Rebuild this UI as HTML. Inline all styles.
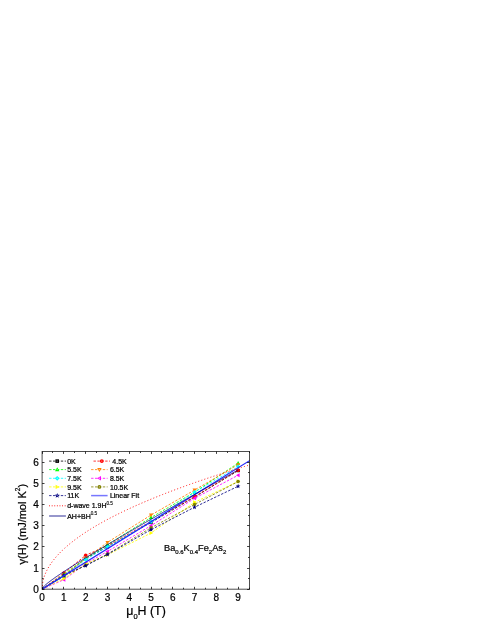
<!DOCTYPE html>
<html><head><meta charset="utf-8"><title>chart</title>
<style>html,body{margin:0;padding:0;background:#fff;}body{width:491px;height:635px;position:relative;overflow:hidden;font-family:"Liberation Sans",sans-serif;}</style>
</head><body>
<svg width="491" height="635" viewBox="0 0 491 635" style="position:absolute;left:0;top:0;filter:blur(0.3px)">
<rect x="0" y="0" width="491" height="635" fill="#fff"/>
<clipPath id="cp"><rect x="42.1" y="451.5" width="207.4" height="137.70000000000005"/></clipPath>
<g clip-path="url(#cp)">
<polyline points="42.10,589.20 63.88,576.07 85.66,558.48 107.44,546.83 151.00,522.47 194.56,497.05 238.12,470.56" fill="none" stroke="#000000" stroke-width="0.85" stroke-dasharray="2.4 1.5"/>
<rect x="62.22" y="574.40" width="3.33" height="3.33" fill="#000000"/>
<rect x="83.99" y="556.82" width="3.33" height="3.33" fill="#000000"/>
<rect x="105.77" y="545.17" width="3.33" height="3.33" fill="#000000"/>
<rect x="149.34" y="520.80" width="3.33" height="3.33" fill="#000000"/>
<rect x="192.90" y="495.38" width="3.33" height="3.33" fill="#000000"/>
<rect x="236.46" y="468.90" width="3.33" height="3.33" fill="#000000"/>
<polyline points="42.10,589.20 63.88,573.10 85.66,555.30 107.44,545.77 151.00,521.41 194.56,496.62 238.12,470.35" fill="none" stroke="#ff0000" stroke-width="0.85" stroke-dasharray="2.4 1.5"/>
<circle cx="63.88" cy="573.10" r="1.76" fill="#ff0000"/>
<circle cx="85.66" cy="555.30" r="1.76" fill="#ff0000"/>
<circle cx="107.44" cy="545.77" r="1.76" fill="#ff0000"/>
<circle cx="151.00" cy="521.41" r="1.76" fill="#ff0000"/>
<circle cx="194.56" cy="496.62" r="1.76" fill="#ff0000"/>
<circle cx="238.12" cy="470.35" r="1.76" fill="#ff0000"/>
<polyline points="42.10,589.20 63.88,574.37 85.66,558.48 107.44,544.71 151.00,517.59 194.56,492.17 238.12,463.15" fill="none" stroke="#00ff00" stroke-width="0.85" stroke-dasharray="2.4 1.5"/>
<polygon points="63.88,572.15 61.84,575.85 65.92,575.85" fill="#00ff00"/>
<polygon points="85.66,556.26 83.62,559.96 87.69,559.96" fill="#00ff00"/>
<polygon points="107.44,542.49 105.41,546.19 109.47,546.19" fill="#00ff00"/>
<polygon points="151.00,515.37 148.97,519.07 153.03,519.07" fill="#00ff00"/>
<polygon points="194.56,489.95 192.53,493.65 196.59,493.65" fill="#00ff00"/>
<polygon points="238.12,460.93 236.09,464.63 240.16,464.63" fill="#00ff00"/>
<polyline points="42.10,589.20 63.88,575.43 85.66,558.48 107.44,542.38 151.00,515.05 194.56,490.05 238.12,464.63" fill="none" stroke="#ff8000" stroke-width="0.85" stroke-dasharray="2.4 1.5"/>
<polygon points="63.88,577.65 61.84,573.95 65.92,573.95" fill="#ff8000"/>
<polygon points="85.66,560.70 83.62,557.00 87.69,557.00" fill="#ff8000"/>
<polygon points="107.44,544.60 105.41,540.90 109.47,540.90" fill="#ff8000"/>
<polygon points="151.00,517.27 148.97,513.57 153.03,513.57" fill="#ff8000"/>
<polygon points="194.56,492.27 192.53,488.57 196.59,488.57" fill="#ff8000"/>
<polygon points="238.12,466.85 236.09,463.15 240.16,463.15" fill="#ff8000"/>
<polyline points="42.10,589.20 63.88,576.49 85.66,559.54 107.44,546.83 151.00,521.83 194.56,492.17 238.12,466.75" fill="none" stroke="#00ffff" stroke-width="0.85" stroke-dasharray="2.4 1.5"/>
<polygon points="63.88,574.27 66.10,576.49 63.88,578.71 61.66,576.49" fill="#00ffff"/>
<polygon points="85.66,557.32 87.88,559.54 85.66,561.76 83.44,559.54" fill="#00ffff"/>
<polygon points="107.44,544.61 109.66,546.83 107.44,549.05 105.22,546.83" fill="#00ffff"/>
<polygon points="151.00,519.61 153.22,521.83 151.00,524.05 148.78,521.83" fill="#00ffff"/>
<polygon points="194.56,489.95 196.78,492.17 194.56,494.39 192.34,492.17" fill="#00ffff"/>
<polygon points="238.12,464.53 240.34,466.75 238.12,468.97 235.90,466.75" fill="#00ffff"/>
<polyline points="42.10,589.20 63.88,579.67 85.66,563.78 107.44,551.49 151.00,525.65 194.56,498.32 238.12,475.22" fill="none" stroke="#ff00ff" stroke-width="0.85" stroke-dasharray="2.4 1.5"/>
<polygon points="61.66,579.67 65.36,577.63 65.36,581.70" fill="#ff00ff"/>
<polygon points="83.44,563.78 87.14,561.74 87.14,565.81" fill="#ff00ff"/>
<polygon points="105.22,551.49 108.92,549.46 108.92,553.53" fill="#ff00ff"/>
<polygon points="148.78,525.65 152.48,523.61 152.48,527.68" fill="#ff00ff"/>
<polygon points="192.34,498.32 196.04,496.28 196.04,500.35" fill="#ff00ff"/>
<polygon points="235.90,475.22 239.60,473.19 239.60,477.26" fill="#ff00ff"/>
<polyline points="42.10,589.20 63.88,578.61 85.66,563.78 107.44,554.88 151.00,533.06 194.56,502.34 238.12,481.37" fill="none" stroke="#ffff00" stroke-width="0.85" stroke-dasharray="2.4 1.5"/>
<polygon points="66.10,578.61 62.40,576.57 62.40,580.64" fill="#ffff00"/>
<polygon points="87.88,563.78 84.18,561.74 84.18,565.81" fill="#ffff00"/>
<polygon points="109.66,554.88 105.96,552.85 105.96,556.92" fill="#ffff00"/>
<polygon points="153.22,533.06 149.52,531.02 149.52,535.09" fill="#ffff00"/>
<polygon points="196.78,502.34 193.08,500.31 193.08,504.38" fill="#ffff00"/>
<polygon points="240.34,481.37 236.64,479.33 236.64,483.40" fill="#ffff00"/>
<polyline points="42.10,589.20 63.88,576.07 85.66,565.47 107.44,554.03 151.00,527.76 194.56,504.46 238.12,481.58" fill="none" stroke="#808000" stroke-width="0.85" stroke-dasharray="2.4 1.5"/>
<circle cx="63.88" cy="576.07" r="1.76" fill="#808000"/>
<circle cx="85.66" cy="565.47" r="1.76" fill="#808000"/>
<circle cx="107.44" cy="554.03" r="1.76" fill="#808000"/>
<circle cx="151.00" cy="527.76" r="1.76" fill="#808000"/>
<circle cx="194.56" cy="504.46" r="1.76" fill="#808000"/>
<circle cx="238.12" cy="481.58" r="1.76" fill="#808000"/>
<polyline points="42.10,589.20 63.88,575.22 85.66,565.68 107.44,554.46 151.00,529.67 194.56,507.21 238.12,486.24" fill="none" stroke="#000080" stroke-width="0.85" stroke-dasharray="2.4 1.5"/>
<polygon points="63.88,572.81 64.48,574.39 66.17,574.47 64.85,575.53 65.29,577.16 63.88,576.24 62.47,577.16 62.91,575.53 61.59,574.47 63.28,574.39" fill="#000080"/>
<polygon points="85.66,563.28 86.26,564.86 87.95,564.94 86.63,566.00 87.07,567.63 85.66,566.70 84.25,567.63 84.69,566.00 83.37,564.94 85.06,564.86" fill="#000080"/>
<polygon points="107.44,552.05 108.04,553.63 109.73,553.71 108.41,554.77 108.85,556.40 107.44,555.47 106.03,556.40 106.47,554.77 105.15,553.71 106.84,553.63" fill="#000080"/>
<polygon points="151.00,527.27 151.60,528.85 153.29,528.93 151.97,529.98 152.41,531.62 151.00,530.69 149.59,531.62 150.03,529.98 148.71,528.93 150.40,528.85" fill="#000080"/>
<polygon points="194.56,504.81 195.16,506.39 196.85,506.47 195.53,507.53 195.97,509.16 194.56,508.23 193.15,509.16 193.59,507.53 192.27,506.47 193.96,506.39" fill="#000080"/>
<polygon points="238.12,483.84 238.72,485.42 240.41,485.50 239.09,486.56 239.53,488.19 238.12,487.26 236.71,488.19 237.15,486.56 235.83,485.50 237.52,485.42" fill="#000080"/>
<line x1="42.10" y1="589.20" x2="251.19" y2="459.65" stroke="#2424ff" stroke-width="1.25"/>
<polyline points="42.10,589.20 42.54,583.51 42.97,581.15 43.41,579.34 43.84,577.82 44.28,576.47 44.71,575.26 45.15,574.14 45.58,573.10 46.02,572.12 46.46,571.20 46.89,570.32 47.33,569.48 47.76,568.68 48.20,567.90 48.63,567.15 49.07,566.43 49.51,565.73 49.94,565.05 50.38,564.39 50.81,563.74 51.25,563.11 51.68,562.50 52.12,561.90 52.55,561.31 52.99,560.74 53.43,560.17 53.86,559.62 54.30,559.08 54.73,558.55 55.17,558.02 55.60,557.51 56.04,557.00 56.47,556.50 56.91,556.01 57.35,555.52 57.78,555.05 58.22,554.57 58.65,554.11 59.09,553.65 59.52,553.20 59.96,552.75 60.40,552.31 60.83,551.87 61.27,551.44 61.70,551.01 62.14,550.59 62.57,550.17 63.01,549.76 63.44,549.35 63.88,548.95 64.32,548.55 64.75,548.15 65.19,547.76 65.62,547.37 66.06,546.98 66.49,546.60 66.93,546.22 67.36,545.85 67.80,545.48 68.24,545.11 68.67,544.74 69.11,544.38 69.54,544.02 69.98,543.66 70.41,543.31 70.85,542.95 71.29,542.61 71.72,542.26 72.16,541.92 72.59,541.57 73.03,541.23 73.46,540.90 73.90,540.56 74.33,540.23 74.77,539.90 75.21,539.57 75.64,539.25 76.08,538.93 76.51,538.60 76.95,538.29 77.38,537.97 77.82,537.65 78.25,537.34 78.69,537.03 79.13,536.72 79.56,536.41 80.00,536.10 80.43,535.80 80.87,535.50 81.30,535.20 81.74,534.90 82.18,534.60 82.61,534.30 83.05,534.01 83.48,533.72 83.92,533.43 84.35,533.14 84.79,532.85 85.22,532.56 85.66,532.28 86.10,531.99 86.53,531.71 86.97,531.43 87.40,531.15 87.84,530.87 88.27,530.59 88.71,530.32 89.14,530.04 89.58,529.77 90.02,529.50 90.45,529.23 90.89,528.96 91.32,528.69 91.76,528.42 92.19,528.16 92.63,527.89 93.07,527.63 93.50,527.36 93.94,527.10 94.37,526.84 94.81,526.58 95.24,526.33 95.68,526.07 96.11,525.81 96.55,525.56 96.99,525.30 97.42,525.05 97.86,524.80 98.29,524.55 98.73,524.30 99.16,524.05 99.60,523.80 100.03,523.55 100.47,523.31 100.91,523.06 101.34,522.82 101.78,522.57 102.21,522.33 102.65,522.09 103.08,521.85 103.52,521.61 103.96,521.37 104.39,521.13 104.83,520.89 105.26,520.65 105.70,520.42 106.13,520.18 106.57,519.95 107.00,519.72 107.44,519.48 107.88,519.25 108.31,519.02 108.75,518.79 109.18,518.56 109.62,518.33 110.05,518.10 110.49,517.87 110.92,517.65 111.36,517.42 111.80,517.20 112.23,516.97 112.67,516.75 113.10,516.52 113.54,516.30 113.97,516.08 114.41,515.86 114.85,515.64 115.28,515.42 115.72,515.20 116.15,514.98 116.59,514.76 117.02,514.54 117.46,514.33 117.89,514.11 118.33,513.90 118.77,513.68 119.20,513.47 119.64,513.25 120.07,513.04 120.51,512.83 120.94,512.62 121.38,512.41 121.81,512.19 122.25,511.98 122.69,511.77 123.12,511.57 123.56,511.36 123.99,511.15 124.43,510.94 124.86,510.74 125.30,510.53 125.74,510.32 126.17,510.12 126.61,509.91 127.04,509.71 127.48,509.51 127.91,509.30 128.35,509.10 128.78,508.90 129.22,508.70 129.66,508.50 130.09,508.30 130.53,508.10 130.96,507.90 131.40,507.70 131.83,507.50 132.27,507.30 132.70,507.10 133.14,506.91 133.58,506.71 134.01,506.51 134.45,506.32 134.88,506.12 135.32,505.93 135.75,505.73 136.19,505.54 136.63,505.35 137.06,505.15 137.50,504.96 137.93,504.77 138.37,504.58 138.80,504.38 139.24,504.19 139.67,504.00 140.11,503.81 140.55,503.62 140.98,503.44 141.42,503.25 141.85,503.06 142.29,502.87 142.72,502.68 143.16,502.50 143.59,502.31 144.03,502.12 144.47,501.94 144.90,501.75 145.34,501.57 145.77,501.38 146.21,501.20 146.64,501.01 147.08,500.83 147.52,500.65 147.95,500.46 148.39,500.28 148.82,500.10 149.26,499.92 149.69,499.74 150.13,499.56 150.56,499.38 151.00,499.19 151.44,499.02 151.87,498.84 152.31,498.66 152.74,498.48 153.18,498.30 153.61,498.12 154.05,497.94 154.48,497.77 154.92,497.59 155.36,497.41 155.79,497.24 156.23,497.06 156.66,496.88 157.10,496.71 157.53,496.53 157.97,496.36 158.41,496.19 158.84,496.01 159.28,495.84 159.71,495.66 160.15,495.49 160.58,495.32 161.02,495.15 161.45,494.97 161.89,494.80 162.33,494.63 162.76,494.46 163.20,494.29 163.63,494.12 164.07,493.95 164.50,493.78 164.94,493.61 165.37,493.44 165.81,493.27 166.25,493.10 166.68,492.93 167.12,492.76 167.55,492.60 167.99,492.43 168.42,492.26 168.86,492.09 169.30,491.93 169.73,491.76 170.17,491.60 170.60,491.43 171.04,491.26 171.47,491.10 171.91,490.93 172.34,490.77 172.78,490.60 173.22,490.44 173.65,490.28 174.09,490.11 174.52,489.95 174.96,489.79 175.39,489.62 175.83,489.46 176.26,489.30 176.70,489.14 177.14,488.97 177.57,488.81 178.01,488.65 178.44,488.49 178.88,488.33 179.31,488.17 179.75,488.01 180.19,487.85 180.62,487.69 181.06,487.53 181.49,487.37 181.93,487.21 182.36,487.05 182.80,486.89 183.23,486.74 183.67,486.58 184.11,486.42 184.54,486.26 184.98,486.11 185.41,485.95 185.85,485.79 186.28,485.64 186.72,485.48 187.15,485.32 187.59,485.17 188.03,485.01 188.46,484.86 188.90,484.70 189.33,484.55 189.77,484.39 190.20,484.24 190.64,484.08 191.08,483.93 191.51,483.77 191.95,483.62 192.38,483.47 192.82,483.31 193.25,483.16 193.69,483.01 194.12,482.86 194.56,482.70 195.00,482.55 195.43,482.40 195.87,482.25 196.30,482.10 196.74,481.95 197.17,481.80 197.61,481.64 198.04,481.49 198.48,481.34 198.92,481.19 199.35,481.04 199.79,480.89 200.22,480.74 200.66,480.60 201.09,480.45 201.53,480.30 201.97,480.15 202.40,480.00 202.84,479.85 203.27,479.70 203.71,479.56 204.14,479.41 204.58,479.26 205.01,479.11 205.45,478.97 205.89,478.82 206.32,478.67 206.76,478.53 207.19,478.38 207.63,478.23 208.06,478.09 208.50,477.94 208.93,477.80 209.37,477.65 209.81,477.51 210.24,477.36 210.68,477.22 211.11,477.07 211.55,476.93 211.98,476.78 212.42,476.64 212.86,476.50 213.29,476.35 213.73,476.21 214.16,476.07 214.60,475.92 215.03,475.78 215.47,475.64 215.90,475.49 216.34,475.35 216.78,475.21 217.21,475.07 217.65,474.93 218.08,474.78 218.52,474.64 218.95,474.50 219.39,474.36 219.82,474.22 220.26,474.08 220.70,473.94 221.13,473.80 221.57,473.66 222.00,473.52 222.44,473.38 222.87,473.24 223.31,473.10 223.75,472.96 224.18,472.82 224.62,472.68 225.05,472.54 225.49,472.40 225.92,472.26 226.36,472.12 226.79,471.99 227.23,471.85 227.67,471.71 228.10,471.57 228.54,471.43 228.97,471.30 229.41,471.16 229.84,471.02 230.28,470.89 230.71,470.75 231.15,470.61 231.59,470.48 232.02,470.34 232.46,470.20 232.89,470.07 233.33,469.93 233.76,469.79 234.20,469.66 234.64,469.52 235.07,469.39 235.51,469.25 235.94,469.12 236.38,468.98 236.81,468.85 237.25,468.71 237.68,468.58 238.12,468.45 238.56,468.31 238.99,468.18 239.43,468.04 239.86,467.91 240.30,467.78 240.73,467.64 241.17,467.51 241.60,467.38 242.04,467.24 242.48,467.11 242.91,466.98 243.35,466.85 243.78,466.71 244.22,466.58 244.65,466.45 245.09,466.32 245.53,466.19 245.96,466.05 246.40,465.92 246.83,465.79 247.27,465.66 247.70,465.53 248.14,465.40 248.57,465.27 249.01,465.14 249.45,465.01 249.88,464.88 250.32,464.75 250.75,464.62" fill="none" stroke="#ff0000" stroke-width="1.0" stroke-dasharray="1.0 2.2"/>
<polyline points="42.10,589.20 42.54,588.06 42.97,587.46 43.41,586.94 43.84,586.47 44.28,586.04 44.71,585.62 45.15,585.22 45.58,584.83 46.02,584.45 46.46,584.08 46.89,583.71 47.33,583.35 47.76,583.00 48.20,582.66 48.63,582.31 49.07,581.98 49.51,581.64 49.94,581.31 50.38,580.98 50.81,580.65 51.25,580.33 51.68,580.01 52.12,579.69 52.55,579.38 52.99,579.06 53.43,578.75 53.86,578.44 54.30,578.13 54.73,577.82 55.17,577.51 55.60,577.21 56.04,576.91 56.47,576.60 56.91,576.30 57.35,576.00 57.78,575.70 58.22,575.41 58.65,575.11 59.09,574.81 59.52,574.52 59.96,574.23 60.40,573.93 60.83,573.64 61.27,573.35 61.70,573.06 62.14,572.77 62.57,572.48 63.01,572.19 63.44,571.90 63.88,571.62 64.32,571.33 64.75,571.04 65.19,570.76 65.62,570.47 66.06,570.19 66.49,569.91 66.93,569.62 67.36,569.34 67.80,569.06 68.24,568.78 68.67,568.50 69.11,568.22 69.54,567.94 69.98,567.66 70.41,567.38 70.85,567.10 71.29,566.82 71.72,566.55 72.16,566.27 72.59,565.99 73.03,565.72 73.46,565.44 73.90,565.16 74.33,564.89 74.77,564.61 75.21,564.34 75.64,564.07 76.08,563.79 76.51,563.52 76.95,563.25 77.38,562.97 77.82,562.70 78.25,562.43 78.69,562.16 79.13,561.88 79.56,561.61 80.00,561.34 80.43,561.07 80.87,560.80 81.30,560.53 81.74,560.26 82.18,559.99 82.61,559.72 83.05,559.45 83.48,559.18 83.92,558.91 84.35,558.65 84.79,558.38 85.22,558.11 85.66,557.84 86.10,557.58 86.53,557.31 86.97,557.04 87.40,556.77 87.84,556.51 88.27,556.24 88.71,555.98 89.14,555.71 89.58,555.44 90.02,555.18 90.45,554.91 90.89,554.65 91.32,554.38 91.76,554.12 92.19,553.85 92.63,553.59 93.07,553.32 93.50,553.06 93.94,552.80 94.37,552.53 94.81,552.27 95.24,552.01 95.68,551.74 96.11,551.48 96.55,551.22 96.99,550.95 97.42,550.69 97.86,550.43 98.29,550.17 98.73,549.91 99.16,549.64 99.60,549.38 100.03,549.12 100.47,548.86 100.91,548.60 101.34,548.34 101.78,548.08 102.21,547.81 102.65,547.55 103.08,547.29 103.52,547.03 103.96,546.77 104.39,546.51 104.83,546.25 105.26,545.99 105.70,545.73 106.13,545.47 106.57,545.21 107.00,544.96 107.44,544.70 107.88,544.44 108.31,544.18 108.75,543.92 109.18,543.66 109.62,543.40 110.05,543.14 110.49,542.88 110.92,542.63 111.36,542.37 111.80,542.11 112.23,541.85 112.67,541.59 113.10,541.34 113.54,541.08 113.97,540.82 114.41,540.56 114.85,540.31 115.28,540.05 115.72,539.79 116.15,539.54 116.59,539.28 117.02,539.02 117.46,538.77 117.89,538.51 118.33,538.25 118.77,538.00 119.20,537.74 119.64,537.48 120.07,537.23 120.51,536.97 120.94,536.72 121.38,536.46 121.81,536.21 122.25,535.95 122.69,535.69 123.12,535.44 123.56,535.18 123.99,534.93 124.43,534.67 124.86,534.42 125.30,534.16 125.74,533.91 126.17,533.65 126.61,533.40 127.04,533.14 127.48,532.89 127.91,532.64 128.35,532.38 128.78,532.13 129.22,531.87 129.66,531.62 130.09,531.37 130.53,531.11 130.96,530.86 131.40,530.60 131.83,530.35 132.27,530.10 132.70,529.84 133.14,529.59 133.58,529.34 134.01,529.08 134.45,528.83 134.88,528.58 135.32,528.32 135.75,528.07 136.19,527.82 136.63,527.56 137.06,527.31 137.50,527.06 137.93,526.81 138.37,526.55 138.80,526.30 139.24,526.05 139.67,525.80 140.11,525.54 140.55,525.29 140.98,525.04 141.42,524.79 141.85,524.54 142.29,524.28 142.72,524.03 143.16,523.78 143.59,523.53 144.03,523.28 144.47,523.03 144.90,522.77 145.34,522.52 145.77,522.27 146.21,522.02 146.64,521.77 147.08,521.52 147.52,521.27 147.95,521.01 148.39,520.76 148.82,520.51 149.26,520.26 149.69,520.01 150.13,519.76 150.56,519.51 151.00,519.26 151.44,519.01 151.87,518.76 152.31,518.51 152.74,518.26 153.18,518.01 153.61,517.76 154.05,517.50 154.48,517.25 154.92,517.00 155.36,516.75 155.79,516.50 156.23,516.25 156.66,516.00 157.10,515.75 157.53,515.50 157.97,515.25 158.41,515.00 158.84,514.76 159.28,514.51 159.71,514.26 160.15,514.01 160.58,513.76 161.02,513.51 161.45,513.26 161.89,513.01 162.33,512.76 162.76,512.51 163.20,512.26 163.63,512.01 164.07,511.76 164.50,511.51 164.94,511.26 165.37,511.02 165.81,510.77 166.25,510.52 166.68,510.27 167.12,510.02 167.55,509.77 167.99,509.52 168.42,509.27 168.86,509.03 169.30,508.78 169.73,508.53 170.17,508.28 170.60,508.03 171.04,507.78 171.47,507.54 171.91,507.29 172.34,507.04 172.78,506.79 173.22,506.54 173.65,506.29 174.09,506.05 174.52,505.80 174.96,505.55 175.39,505.30 175.83,505.05 176.26,504.81 176.70,504.56 177.14,504.31 177.57,504.06 178.01,503.82 178.44,503.57 178.88,503.32 179.31,503.07 179.75,502.83 180.19,502.58 180.62,502.33 181.06,502.08 181.49,501.84 181.93,501.59 182.36,501.34 182.80,501.09 183.23,500.85 183.67,500.60 184.11,500.35 184.54,500.11 184.98,499.86 185.41,499.61 185.85,499.37 186.28,499.12 186.72,498.87 187.15,498.62 187.59,498.38 188.03,498.13 188.46,497.88 188.90,497.64 189.33,497.39 189.77,497.14 190.20,496.90 190.64,496.65 191.08,496.40 191.51,496.16 191.95,495.91 192.38,495.67 192.82,495.42 193.25,495.17 193.69,494.93 194.12,494.68 194.56,494.43 195.00,494.19 195.43,493.94 195.87,493.70 196.30,493.45 196.74,493.20 197.17,492.96 197.61,492.71 198.04,492.47 198.48,492.22 198.92,491.97 199.35,491.73 199.79,491.48 200.22,491.24 200.66,490.99 201.09,490.75 201.53,490.50 201.97,490.25 202.40,490.01 202.84,489.76 203.27,489.52 203.71,489.27 204.14,489.03 204.58,488.78 205.01,488.54 205.45,488.29 205.89,488.05 206.32,487.80 206.76,487.55 207.19,487.31 207.63,487.06 208.06,486.82 208.50,486.57 208.93,486.33 209.37,486.08 209.81,485.84 210.24,485.59 210.68,485.35 211.11,485.10 211.55,484.86 211.98,484.61 212.42,484.37 212.86,484.12 213.29,483.88 213.73,483.63 214.16,483.39 214.60,483.15 215.03,482.90 215.47,482.66 215.90,482.41 216.34,482.17 216.78,481.92 217.21,481.68 217.65,481.43 218.08,481.19 218.52,480.94 218.95,480.70 219.39,480.46 219.82,480.21 220.26,479.97 220.70,479.72 221.13,479.48 221.57,479.23 222.00,478.99 222.44,478.74 222.87,478.50 223.31,478.26 223.75,478.01 224.18,477.77 224.62,477.52 225.05,477.28 225.49,477.04 225.92,476.79 226.36,476.55 226.79,476.30 227.23,476.06 227.67,475.82 228.10,475.57 228.54,475.33 228.97,475.09 229.41,474.84 229.84,474.60 230.28,474.35 230.71,474.11 231.15,473.87 231.59,473.62 232.02,473.38 232.46,473.14 232.89,472.89 233.33,472.65 233.76,472.40 234.20,472.16 234.64,471.92 235.07,471.67 235.51,471.43 235.94,471.19 236.38,470.94 236.81,470.70 237.25,470.46 237.68,470.21 238.12,469.97" fill="none" stroke="#000080" stroke-width="0.9"/>
</g>
<rect x="42.1" y="451.5" width="207.4" height="137.70000000000005" fill="none" stroke="#000" stroke-opacity="0.70" stroke-width="1.0"/>
<line x1="42.50" y1="589.2" x2="42.50" y2="586.8000000000001" stroke="#000" stroke-opacity="0.75" stroke-width="1"/>
<line x1="42.50" y1="451.5" x2="42.50" y2="453.9" stroke="#000" stroke-opacity="0.75" stroke-width="1"/>
<line x1="52.50" y1="589.2" x2="52.50" y2="587.7" stroke="#000" stroke-opacity="0.75" stroke-width="1"/>
<line x1="52.50" y1="451.5" x2="52.50" y2="453.0" stroke="#000" stroke-opacity="0.75" stroke-width="1"/>
<line x1="63.50" y1="589.2" x2="63.50" y2="586.8000000000001" stroke="#000" stroke-opacity="0.75" stroke-width="1"/>
<line x1="63.50" y1="451.5" x2="63.50" y2="453.9" stroke="#000" stroke-opacity="0.75" stroke-width="1"/>
<line x1="74.50" y1="589.2" x2="74.50" y2="587.7" stroke="#000" stroke-opacity="0.75" stroke-width="1"/>
<line x1="74.50" y1="451.5" x2="74.50" y2="453.0" stroke="#000" stroke-opacity="0.75" stroke-width="1"/>
<line x1="85.50" y1="589.2" x2="85.50" y2="586.8000000000001" stroke="#000" stroke-opacity="0.75" stroke-width="1"/>
<line x1="85.50" y1="451.5" x2="85.50" y2="453.9" stroke="#000" stroke-opacity="0.75" stroke-width="1"/>
<line x1="96.50" y1="589.2" x2="96.50" y2="587.7" stroke="#000" stroke-opacity="0.75" stroke-width="1"/>
<line x1="96.50" y1="451.5" x2="96.50" y2="453.0" stroke="#000" stroke-opacity="0.75" stroke-width="1"/>
<line x1="107.50" y1="589.2" x2="107.50" y2="586.8000000000001" stroke="#000" stroke-opacity="0.75" stroke-width="1"/>
<line x1="107.50" y1="451.5" x2="107.50" y2="453.9" stroke="#000" stroke-opacity="0.75" stroke-width="1"/>
<line x1="118.50" y1="589.2" x2="118.50" y2="587.7" stroke="#000" stroke-opacity="0.75" stroke-width="1"/>
<line x1="118.50" y1="451.5" x2="118.50" y2="453.0" stroke="#000" stroke-opacity="0.75" stroke-width="1"/>
<line x1="129.50" y1="589.2" x2="129.50" y2="586.8000000000001" stroke="#000" stroke-opacity="0.75" stroke-width="1"/>
<line x1="129.50" y1="451.5" x2="129.50" y2="453.9" stroke="#000" stroke-opacity="0.75" stroke-width="1"/>
<line x1="140.50" y1="589.2" x2="140.50" y2="587.7" stroke="#000" stroke-opacity="0.75" stroke-width="1"/>
<line x1="140.50" y1="451.5" x2="140.50" y2="453.0" stroke="#000" stroke-opacity="0.75" stroke-width="1"/>
<line x1="151.50" y1="589.2" x2="151.50" y2="586.8000000000001" stroke="#000" stroke-opacity="0.75" stroke-width="1"/>
<line x1="151.50" y1="451.5" x2="151.50" y2="453.9" stroke="#000" stroke-opacity="0.75" stroke-width="1"/>
<line x1="161.50" y1="589.2" x2="161.50" y2="587.7" stroke="#000" stroke-opacity="0.75" stroke-width="1"/>
<line x1="161.50" y1="451.5" x2="161.50" y2="453.0" stroke="#000" stroke-opacity="0.75" stroke-width="1"/>
<line x1="172.50" y1="589.2" x2="172.50" y2="586.8000000000001" stroke="#000" stroke-opacity="0.75" stroke-width="1"/>
<line x1="172.50" y1="451.5" x2="172.50" y2="453.9" stroke="#000" stroke-opacity="0.75" stroke-width="1"/>
<line x1="183.50" y1="589.2" x2="183.50" y2="587.7" stroke="#000" stroke-opacity="0.75" stroke-width="1"/>
<line x1="183.50" y1="451.5" x2="183.50" y2="453.0" stroke="#000" stroke-opacity="0.75" stroke-width="1"/>
<line x1="194.50" y1="589.2" x2="194.50" y2="586.8000000000001" stroke="#000" stroke-opacity="0.75" stroke-width="1"/>
<line x1="194.50" y1="451.5" x2="194.50" y2="453.9" stroke="#000" stroke-opacity="0.75" stroke-width="1"/>
<line x1="205.50" y1="589.2" x2="205.50" y2="587.7" stroke="#000" stroke-opacity="0.75" stroke-width="1"/>
<line x1="205.50" y1="451.5" x2="205.50" y2="453.0" stroke="#000" stroke-opacity="0.75" stroke-width="1"/>
<line x1="216.50" y1="589.2" x2="216.50" y2="586.8000000000001" stroke="#000" stroke-opacity="0.75" stroke-width="1"/>
<line x1="216.50" y1="451.5" x2="216.50" y2="453.9" stroke="#000" stroke-opacity="0.75" stroke-width="1"/>
<line x1="227.50" y1="589.2" x2="227.50" y2="587.7" stroke="#000" stroke-opacity="0.75" stroke-width="1"/>
<line x1="227.50" y1="451.5" x2="227.50" y2="453.0" stroke="#000" stroke-opacity="0.75" stroke-width="1"/>
<line x1="238.50" y1="589.2" x2="238.50" y2="586.8000000000001" stroke="#000" stroke-opacity="0.75" stroke-width="1"/>
<line x1="238.50" y1="451.5" x2="238.50" y2="453.9" stroke="#000" stroke-opacity="0.75" stroke-width="1"/>
<line x1="249.50" y1="589.2" x2="249.50" y2="587.7" stroke="#000" stroke-opacity="0.75" stroke-width="1"/>
<line x1="249.50" y1="451.5" x2="249.50" y2="453.0" stroke="#000" stroke-opacity="0.75" stroke-width="1"/>
<line x1="42.1" y1="589.50" x2="44.5" y2="589.50" stroke="#000" stroke-opacity="0.75" stroke-width="1"/>
<line x1="249.5" y1="589.50" x2="247.1" y2="589.50" stroke="#000" stroke-opacity="0.75" stroke-width="1"/>
<line x1="42.1" y1="578.50" x2="43.6" y2="578.50" stroke="#000" stroke-opacity="0.75" stroke-width="1"/>
<line x1="249.5" y1="578.50" x2="248.0" y2="578.50" stroke="#000" stroke-opacity="0.75" stroke-width="1"/>
<line x1="42.1" y1="568.50" x2="44.5" y2="568.50" stroke="#000" stroke-opacity="0.75" stroke-width="1"/>
<line x1="249.5" y1="568.50" x2="247.1" y2="568.50" stroke="#000" stroke-opacity="0.75" stroke-width="1"/>
<line x1="42.1" y1="557.50" x2="43.6" y2="557.50" stroke="#000" stroke-opacity="0.75" stroke-width="1"/>
<line x1="249.5" y1="557.50" x2="248.0" y2="557.50" stroke="#000" stroke-opacity="0.75" stroke-width="1"/>
<line x1="42.1" y1="546.50" x2="44.5" y2="546.50" stroke="#000" stroke-opacity="0.75" stroke-width="1"/>
<line x1="249.5" y1="546.50" x2="247.1" y2="546.50" stroke="#000" stroke-opacity="0.75" stroke-width="1"/>
<line x1="42.1" y1="536.50" x2="43.6" y2="536.50" stroke="#000" stroke-opacity="0.75" stroke-width="1"/>
<line x1="249.5" y1="536.50" x2="248.0" y2="536.50" stroke="#000" stroke-opacity="0.75" stroke-width="1"/>
<line x1="42.1" y1="525.50" x2="44.5" y2="525.50" stroke="#000" stroke-opacity="0.75" stroke-width="1"/>
<line x1="249.5" y1="525.50" x2="247.1" y2="525.50" stroke="#000" stroke-opacity="0.75" stroke-width="1"/>
<line x1="42.1" y1="515.50" x2="43.6" y2="515.50" stroke="#000" stroke-opacity="0.75" stroke-width="1"/>
<line x1="249.5" y1="515.50" x2="248.0" y2="515.50" stroke="#000" stroke-opacity="0.75" stroke-width="1"/>
<line x1="42.1" y1="504.50" x2="44.5" y2="504.50" stroke="#000" stroke-opacity="0.75" stroke-width="1"/>
<line x1="249.5" y1="504.50" x2="247.1" y2="504.50" stroke="#000" stroke-opacity="0.75" stroke-width="1"/>
<line x1="42.1" y1="493.50" x2="43.6" y2="493.50" stroke="#000" stroke-opacity="0.75" stroke-width="1"/>
<line x1="249.5" y1="493.50" x2="248.0" y2="493.50" stroke="#000" stroke-opacity="0.75" stroke-width="1"/>
<line x1="42.1" y1="483.50" x2="44.5" y2="483.50" stroke="#000" stroke-opacity="0.75" stroke-width="1"/>
<line x1="249.5" y1="483.50" x2="247.1" y2="483.50" stroke="#000" stroke-opacity="0.75" stroke-width="1"/>
<line x1="42.1" y1="472.50" x2="43.6" y2="472.50" stroke="#000" stroke-opacity="0.75" stroke-width="1"/>
<line x1="249.5" y1="472.50" x2="248.0" y2="472.50" stroke="#000" stroke-opacity="0.75" stroke-width="1"/>
<line x1="42.1" y1="462.50" x2="44.5" y2="462.50" stroke="#000" stroke-opacity="0.75" stroke-width="1"/>
<line x1="249.5" y1="462.50" x2="247.1" y2="462.50" stroke="#000" stroke-opacity="0.75" stroke-width="1"/>
<text x="42.10" y="600.7" font-size="10" text-anchor="middle" font-family="Liberation Sans, sans-serif" stroke="#000" stroke-width="0.22">0</text>
<text x="63.88" y="600.7" font-size="10" text-anchor="middle" font-family="Liberation Sans, sans-serif" stroke="#000" stroke-width="0.22">1</text>
<text x="85.66" y="600.7" font-size="10" text-anchor="middle" font-family="Liberation Sans, sans-serif" stroke="#000" stroke-width="0.22">2</text>
<text x="107.44" y="600.7" font-size="10" text-anchor="middle" font-family="Liberation Sans, sans-serif" stroke="#000" stroke-width="0.22">3</text>
<text x="129.22" y="600.7" font-size="10" text-anchor="middle" font-family="Liberation Sans, sans-serif" stroke="#000" stroke-width="0.22">4</text>
<text x="151.00" y="600.7" font-size="10" text-anchor="middle" font-family="Liberation Sans, sans-serif" stroke="#000" stroke-width="0.22">5</text>
<text x="172.78" y="600.7" font-size="10" text-anchor="middle" font-family="Liberation Sans, sans-serif" stroke="#000" stroke-width="0.22">6</text>
<text x="194.56" y="600.7" font-size="10" text-anchor="middle" font-family="Liberation Sans, sans-serif" stroke="#000" stroke-width="0.22">7</text>
<text x="216.34" y="600.7" font-size="10" text-anchor="middle" font-family="Liberation Sans, sans-serif" stroke="#000" stroke-width="0.22">8</text>
<text x="238.12" y="600.7" font-size="10" text-anchor="middle" font-family="Liberation Sans, sans-serif" stroke="#000" stroke-width="0.22">9</text>
<text x="38.9" y="592.70" font-size="10" text-anchor="end" font-family="Liberation Sans, sans-serif" stroke="#000" stroke-width="0.22">0</text>
<text x="38.9" y="571.52" font-size="10" text-anchor="end" font-family="Liberation Sans, sans-serif" stroke="#000" stroke-width="0.22">1</text>
<text x="38.9" y="550.33" font-size="10" text-anchor="end" font-family="Liberation Sans, sans-serif" stroke="#000" stroke-width="0.22">2</text>
<text x="38.9" y="529.15" font-size="10" text-anchor="end" font-family="Liberation Sans, sans-serif" stroke="#000" stroke-width="0.22">3</text>
<text x="38.9" y="507.96" font-size="10" text-anchor="end" font-family="Liberation Sans, sans-serif" stroke="#000" stroke-width="0.22">4</text>
<text x="38.9" y="486.78" font-size="10" text-anchor="end" font-family="Liberation Sans, sans-serif" stroke="#000" stroke-width="0.22">5</text>
<text x="38.9" y="465.59" font-size="10" text-anchor="end" font-family="Liberation Sans, sans-serif" stroke="#000" stroke-width="0.22">6</text>
<text x="146" y="615.3" font-size="12.4" text-anchor="middle" font-family="Liberation Sans, sans-serif" stroke="#000" stroke-width="0.22">μ<tspan font-size="7.5" dy="3.4">0</tspan><tspan dy="-3.4">H (T)</tspan></text>
<text transform="translate(25.9,524.2) rotate(-90)" font-size="11" text-anchor="middle" font-family="Liberation Sans, sans-serif" stroke="#000" stroke-width="0.22">γ(H) (mJ/mol K<tspan font-size="6.5" dy="-5.5">2</tspan><tspan dy="5.5">)</tspan></text>
<text x="164" y="551.3" font-size="9.2" font-family="Liberation Sans, sans-serif" stroke="#000" stroke-width="0.22">Ba<tspan font-size="6.0" dy="2.6">0.6</tspan><tspan dy="-2.6">K</tspan><tspan font-size="6.0" dy="2.6">0.4</tspan><tspan dy="-2.6">Fe</tspan><tspan font-size="6.0" dy="2.6">2</tspan><tspan dy="-2.6">As</tspan><tspan font-size="6.0" dy="2.6">2</tspan></text>
<line x1="49.1" y1="461.1" x2="65.9" y2="461.1" stroke="#000000" stroke-width="0.8" stroke-dasharray="2.4 1.5"/>
<rect x="55.40" y="459.30" width="3.60" height="3.60" fill="#000000"/>
<circle cx="57.2" cy="461.1" r="0.7" fill="#fff" fill-opacity="0.55"/>
<text x="67.2" y="463.70000000000005" font-size="7" font-family="Liberation Sans, sans-serif" stroke="#000" stroke-width="0.22">0K</text>
<line x1="49.1" y1="469.6" x2="65.9" y2="469.6" stroke="#00ff00" stroke-width="0.8" stroke-dasharray="2.4 1.5"/>
<polygon points="57.20,467.20 55.00,471.20 59.40,471.20" fill="#00ff00"/>
<circle cx="57.2" cy="469.6" r="0.7" fill="#fff" fill-opacity="0.55"/>
<text x="67.2" y="472.20000000000005" font-size="7" font-family="Liberation Sans, sans-serif" stroke="#000" stroke-width="0.22">5.5K</text>
<line x1="49.1" y1="478.3" x2="65.9" y2="478.3" stroke="#00ffff" stroke-width="0.8" stroke-dasharray="2.4 1.5"/>
<polygon points="57.20,475.90 59.60,478.30 57.20,480.70 54.80,478.30" fill="#00ffff"/>
<circle cx="57.2" cy="478.3" r="0.7" fill="#fff" fill-opacity="0.55"/>
<text x="67.2" y="480.90000000000003" font-size="7" font-family="Liberation Sans, sans-serif" stroke="#000" stroke-width="0.22">7.5K</text>
<line x1="49.1" y1="486.9" x2="65.9" y2="486.9" stroke="#ffff00" stroke-width="0.8" stroke-dasharray="2.4 1.5"/>
<polygon points="59.60,486.90 55.60,484.70 55.60,489.10" fill="#ffff00"/>
<circle cx="57.2" cy="486.9" r="0.7" fill="#fff" fill-opacity="0.55"/>
<text x="67.2" y="489.5" font-size="7" font-family="Liberation Sans, sans-serif" stroke="#000" stroke-width="0.22">9.5K</text>
<line x1="49.1" y1="495.6" x2="65.9" y2="495.6" stroke="#000080" stroke-width="0.8" stroke-dasharray="2.4 1.5"/>
<polygon points="57.20,493.00 57.85,494.71 59.67,494.80 58.25,495.94 58.73,497.70 57.20,496.70 55.67,497.70 56.15,495.94 54.73,494.80 56.55,494.71" fill="#000080"/>
<circle cx="57.2" cy="495.6" r="0.7" fill="#fff" fill-opacity="0.55"/>
<text x="67.2" y="498.20000000000005" font-size="7" font-family="Liberation Sans, sans-serif" stroke="#000" stroke-width="0.22">11K</text>
<line x1="93.5" y1="461.1" x2="110.0" y2="461.1" stroke="#ff0000" stroke-width="0.8" stroke-dasharray="2.4 1.5"/>
<circle cx="101.80" cy="461.10" r="1.90" fill="#ff0000"/>
<circle cx="101.80000000000001" cy="461.1" r="0.7" fill="#fff" fill-opacity="0.55"/>
<text x="112.30000000000001" y="463.70000000000005" font-size="7" font-family="Liberation Sans, sans-serif" stroke="#000" stroke-width="0.22">4.5K</text>
<line x1="91.1" y1="469.6" x2="107.6" y2="469.6" stroke="#ff8000" stroke-width="0.8" stroke-dasharray="2.4 1.5"/>
<polygon points="99.40,472.00 97.20,468.00 101.60,468.00" fill="#ff8000"/>
<circle cx="99.4" cy="469.6" r="0.7" fill="#fff" fill-opacity="0.55"/>
<text x="109.9" y="472.20000000000005" font-size="7" font-family="Liberation Sans, sans-serif" stroke="#000" stroke-width="0.22">6.5K</text>
<line x1="91.1" y1="478.3" x2="107.6" y2="478.3" stroke="#ff00ff" stroke-width="0.8" stroke-dasharray="2.4 1.5"/>
<polygon points="97.00,478.30 101.00,476.10 101.00,480.50" fill="#ff00ff"/>
<circle cx="99.4" cy="478.3" r="0.7" fill="#fff" fill-opacity="0.55"/>
<text x="109.9" y="480.90000000000003" font-size="7" font-family="Liberation Sans, sans-serif" stroke="#000" stroke-width="0.22">8.5K</text>
<line x1="91.1" y1="486.9" x2="107.6" y2="486.9" stroke="#808000" stroke-width="0.8" stroke-dasharray="2.4 1.5"/>
<circle cx="99.40" cy="486.90" r="1.90" fill="#808000"/>
<circle cx="99.4" cy="486.9" r="0.7" fill="#fff" fill-opacity="0.55"/>
<text x="109.9" y="489.5" font-size="7" font-family="Liberation Sans, sans-serif" stroke="#000" stroke-width="0.22">10.5K</text>
<line x1="91.1" y1="495.6" x2="107.6" y2="495.6" stroke="#2424ff" stroke-width="1.5" stroke-opacity="0.62"/>
<text x="109.9" y="498.20000000000005" font-size="7" font-family="Liberation Sans, sans-serif" stroke="#000" stroke-width="0.22">Linear Fit</text>
<line x1="49.1" y1="505.8" x2="65.9" y2="505.8" stroke="#ff0000" stroke-width="0.95" stroke-dasharray="0.9 1.7"/>
<text x="67.2" y="508.40000000000003" font-size="7" font-family="Liberation Sans, sans-serif" stroke="#000" stroke-width="0.22">d-wave 1.9H<tspan font-size="4.6" dy="-3.2" stroke-width="0.12">0.5</tspan></text>
<line x1="49.1" y1="516.0" x2="65.9" y2="516.0" stroke="#000080" stroke-width="1.6" stroke-opacity="0.52"/>
<text x="67.2" y="518.6" font-size="7" font-family="Liberation Sans, sans-serif" stroke="#000" stroke-width="0.22">AH+BH<tspan font-size="4.6" dy="-3.2" stroke-width="0.12">0.5</tspan></text>
</svg>
</body></html>
